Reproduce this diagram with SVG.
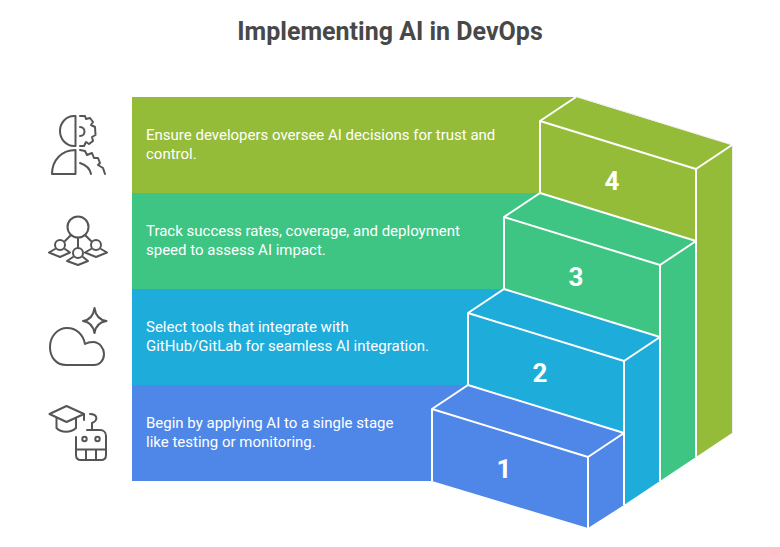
<svg xmlns="http://www.w3.org/2000/svg" width="780" height="547" viewBox="0 0 780 547">
<style>
.t{font-family:Roboto,"Liberation Sans",sans-serif;font-size:15px;fill:#fff}
.n{font-family:Roboto,"Liberation Sans",sans-serif;font-size:26px;font-weight:700;fill:#fff;text-anchor:middle}
.l{fill:none;stroke:#fff;stroke-width:2;stroke-linejoin:round}
.i{fill:none;stroke:#555;stroke-width:2;stroke-linejoin:round;stroke-linecap:round}
.ti{font-family:Roboto,"Liberation Sans",sans-serif;font-size:25px;font-weight:700;fill:#484848;text-anchor:middle}
</style>
<rect width="780" height="547" fill="#fff"/>
<text class="ti" x="390" y="40">Implementing AI in DevOps</text>
<g id="step4">
<path fill="#94BC38" d="M132 97H576L732 145V433L696 457V241L540 193H132Z"/>
<path fill="#94BC38" d="M540 121L696 169V241L540 193Z"/>
<path fill="none" stroke="#eee" stroke-width="1" d="M576 96.500L732.500 145V433"/>
<path class="l" d="M576 97L540 121M696 169L732 145M540 193V121L696 169V241"/>
<text class="t" x="146" y="140">Ensure developers oversee AI decisions for trust and</text>
<text class="t" x="146" y="159">control.</text>
<text class="n" x="612" y="190">4</text>
</g>
<g id="step3">
<path fill="#3EC583" d="M132 193H540L696 241V457L660 481V265L504 217V289H132Z"/>
<path fill="#3EC583" d="M504 217L660 265V337L504 289Z"/>
<path class="l" d="M540 193L696 241M540 193L504 217M660 265L696 241M504 289V217L660 265V337M696 241V457"/>
<text class="t" x="146" y="236">Track success rates, coverage, and deployment</text>
<text class="t" x="146" y="255">speed to assess AI impact.</text>
<text class="n" x="576" y="286">3</text>
</g>
<g id="step2">
<path fill="#1EACDB" d="M132 289H504L660 337V481L624 505V361L468 313V385H132Z"/>
<path fill="#1EACDB" d="M468 313L624 361V433L468 385Z"/>
<path class="l" d="M504 289L660 337M504 289L468 313M624 361L660 337M468 385V313L624 361V433M660 337V481"/>
<text class="t" x="146" y="332">Select tools that integrate with</text>
<text class="t" x="146" y="351">GitHub/GitLab for seamless AI integration.</text>
<text class="n" x="540" y="382">2</text>
</g>
<g id="step1">
<path fill="#4E87E8" d="M132 385H468L624 433V505L588 528L432 481H132Z"/>
<path class="l" d="M468 385L624 433M468 385L432 409M588 457L624 433M432 481V409L588 457V528M624 433V505"/>
<text class="t" x="146" y="428">Begin by applying AI to a single stage</text>
<text class="t" x="146" y="447">like testing or monitoring.</text>
<text class="n" x="504" y="478">1</text>
</g>
<g id="icon4">
<path class="i" d="M75.500 116V146H74C66 146 60 139 60 131S66 116 74 116Z"/>
<path class="i" d="M75.500 150V174H52C52 160 62 150 75.500 150Z"/>
<path class="i" d="M80 116L85 116L86 119L90 118L93 122L91 125L95 127L95.500 135L92 137L93 141L89 144L86 142L84 146L80 146"/>
<path class="i" d="M80 127C86 127 86 136 80 136"/>
<path class="i" d="M80 150L85 151L87 155L92 153L94 158L98 158L100 163L98 165L103 168L105 174"/>
<path class="i" d="M80 163C86 165 90 169 91 174"/>
</g>
<g id="icon3">
<circle class="i" cx="78" cy="227" r="10.500"/>
<circle class="i" cx="60" cy="245" r="5"/>
<circle class="i" cx="96" cy="245" r="5"/>
<circle class="i" cx="78" cy="253" r="5"/>
<path class="i" d="M71 235L65 241M85 235L91 241M78 238V248"/>
<path class="i" d="M55 249L49 252.500L60 257L70 252.500L65 249M73 257L67 261L78 265L88 261L83 257M91 249L85 252.500L96 257L107 252.500L101 249"/>
</g>
<g id="icon2">
<path class="i" d="M94.500 308C95.500 315 99 320 106.500 321C99 322 95.500 327 94.500 333C93.500 327 90 322 83 321C90 320 93.500 315 94.500 308Z"/>
<path class="i" d="M66 365C56 365 50 357 50 347C50 336 58 328 67 328C76 328 83 334 85 344C88 342 90 342 93 342C100 342 104 349 104 354C104 361 99 365 94 365Z"/>
</g>
<g id="icon1">
<path class="i" d="M49.500 414L66.500 406L84 414L66.500 422Z"/>
<path class="i" d="M56.500 418V428C61 433 71 433 76 428V418M84 414V420"/>
<path class="i" d="M90 414C97 414 99 420 92 423V430M87 430H100C104 430 106 433 106 436V455C106 458 104 460 101 460H81C78 460 76 458 76 455V437"/>
<circle class="i" cx="84.500" cy="439" r="2.200"/><circle class="i" cx="97.500" cy="439" r="2.200"/>
<path class="i" d="M76 449.500H106M86 449.500V460M96 449.500V460"/>
</g>
</svg>
